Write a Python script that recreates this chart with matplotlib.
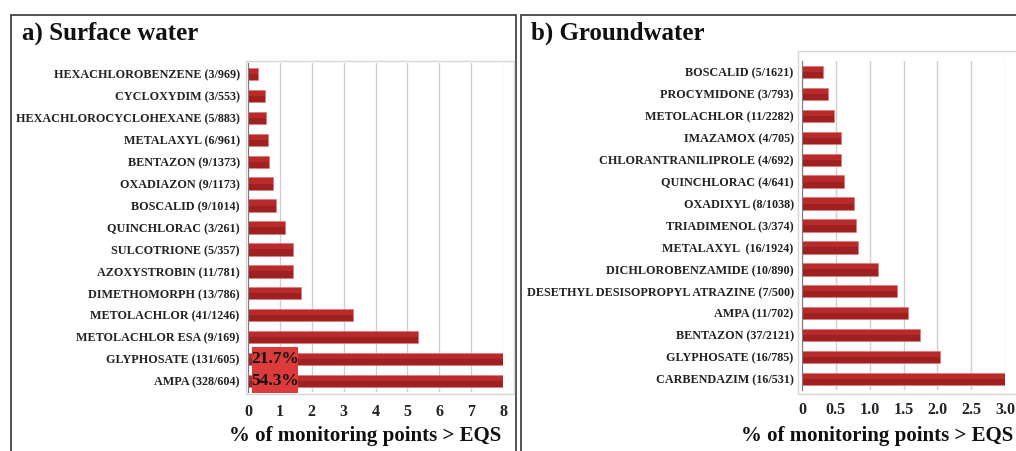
import matplotlib
matplotlib.use("Agg")
import matplotlib.pyplot as plt
import matplotlib.patches as patches

W, H = 1016, 451

# a) surface water  (% of monitoring points > EQS)
sw_labels = ["HEXACHLOROBENZENE (3/969)", "CYCLOXYDIM (3/553)", "HEXACHLOROCYCLOHEXANE (5/883)",
             "METALAXYL (6/961)", "BENTAZON (9/1373)", "OXADIAZON (9/1173)", "BOSCALID (9/1014)",
             "QUINCHLORAC (3/261)", "SULCOTRIONE (5/357)", "AZOXYSTROBIN (11/781)",
             "DIMETHOMORPH (13/786)", "METOLACHLOR (41/1246)", "METOLACHLOR ESA (9/169)",
             "GLYPHOSATE (131/605)", "AMPA (328/604)"]
sw_values = [0.31, 0.54, 0.57, 0.62, 0.66, 0.77, 0.89, 1.15, 1.40, 1.41, 1.65, 3.29, 5.33, 21.7, 54.3]
sw_ticks = [0, 1, 2, 3, 4, 5, 6, 7, 8]
sw_big = ["21.7%", "54.3%"]

# b) groundwater
gw_labels = ["BOSCALID (5/1621)", "PROCYMIDONE (3/793)", "METOLACHLOR (11/2282)", "IMAZAMOX (4/705)",
             "CHLORANTRANILIPROLE (4/692)", "QUINCHLORAC (4/641)", "OXADIXYL (8/1038)",
             "TRIADIMENOL (3/374)", "METALAXYL  (16/1924)", "DICHLOROBENZAMIDE (10/890)",
             "DESETHYL DESISOPROPYL ATRAZINE (7/500)", "AMPA (11/702)", "BENTAZON (37/2121)",
             "GLYPHOSATE (16/785)", "CARBENDAZIM (16/531)"]
gw_values = [0.31, 0.38, 0.48, 0.57, 0.58, 0.62, 0.77, 0.80, 0.83, 1.12, 1.40, 1.57, 1.74, 2.04, 3.01]
gw_ticks = [0, 0.5, 1.0, 1.5, 2.0, 2.5, 3.0]
gw_ticklabels = ["0", "0.5", "1.0", "1.5", "2.0", "2.5", "3.0"]

serif = "Liberation Serif"
barcol = "#b92a2a"


def fx(px):
    return px / W


def fy(py):
    return 1 - py / H


def box(fig, x0, y0, x1, y1, color, lw):
    fig.add_artist(patches.Rectangle((fx(x0), fy(y1)), fx(x1) - fx(x0), fy(y0) - fy(y1),
                                     transform=fig.transFigure, fill=False,
                                     edgecolor=color, linewidth=lw, clip_on=False))


fig = plt.figure(figsize=(W / 100, H / 100), dpi=100)

# outer panel frames
box(fig, 11, 15, 516, 460, "#444444", 1.3)
box(fig, 521, 15, 1030, 460, "#444444", 1.3)
# plot-area frames
box(fig, 246, 61, 514, 394, "#d6d6d6", 1.0)
box(fig, 798, 51, 1030, 394, "#d6d6d6", 1.0)


def panel(rect, labels, values, xmax, ticks, ticklabels):
    x0, x1, yt, yb = rect
    ax = fig.add_axes([fx(x0), fy(yb), fx(x1) - fx(x0), fy(yt) - fy(yb)])
    pos = list(range(len(labels)))
    ax.barh(pos, values, height=0.56, color=barcol, edgecolor="#e07070", linewidth=0.4, zorder=3)
    # darker lower half for a little shading
    ax.barh([p + 0.14 for p in pos], values, height=0.28, color="#9e2020", linewidth=0, zorder=3)
    ax.set_xlim(0, xmax)
    ax.set_ylim(len(labels) - 0.5, -0.5)
    ax.set_yticks(pos)
    ax.set_yticklabels(labels, fontfamily=serif, fontweight="bold", fontsize=8.7, color="#222222")
    ax.set_xticks(ticks)
    ax.set_xticklabels(ticklabels, fontfamily=serif, fontweight="bold", fontsize=11.5, color="#222222")
    ax.tick_params(length=0, pad=6)
    ax.tick_params(axis="x", pad=9)
    ax.grid(axis="x", color="#cfcfcf", linewidth=1.0, zorder=0)
    for s in ["top", "right", "bottom"]:
        ax.spines[s].set_visible(False)
    ax.spines["left"].set_color("#7a7a7a")
    ax.spines["left"].set_zorder(4)
    ax.patch.set_visible(False)
    return ax


ax1 = panel((248, 503, 63, 392), sw_labels, sw_values, 8, sw_ticks, [str(t) for t in sw_ticks])
ax2 = panel((802, 1005, 61, 390), gw_labels, gw_values, 3.0, gw_ticks, gw_ticklabels)

# box with the values of the clipped bars
ax1.add_patch(patches.Rectangle((0.13, 12.43), 1.44, 2.12, facecolor="#dc3b3b", edgecolor="none",
                                zorder=5, clip_on=False))
for i, t in enumerate(sw_big):
    ax1.text(0.86, 13 + i, t, ha="center", va="center", fontfamily=serif, fontweight="bold",
             fontsize=12.5, color="#111111", zorder=6)

fig.text(fx(22), fy(33), "a) Surface water", fontfamily=serif, fontweight="bold", fontsize=18,
         va="center", ha="left", color="#111111")
fig.text(fx(531), fy(33), "b) Groundwater", fontfamily=serif, fontweight="bold", fontsize=18,
         va="center", ha="left", color="#111111")
fig.text(fx(365), fy(436), "% of monitoring points > EQS", fontfamily=serif, fontweight="bold",
         fontsize=15, va="center", ha="center", color="#111111")
fig.text(fx(877), fy(436), "% of monitoring points > EQS", fontfamily=serif, fontweight="bold",
         fontsize=15, va="center", ha="center", color="#111111")

fig.savefig("out.png", dpi=100)
